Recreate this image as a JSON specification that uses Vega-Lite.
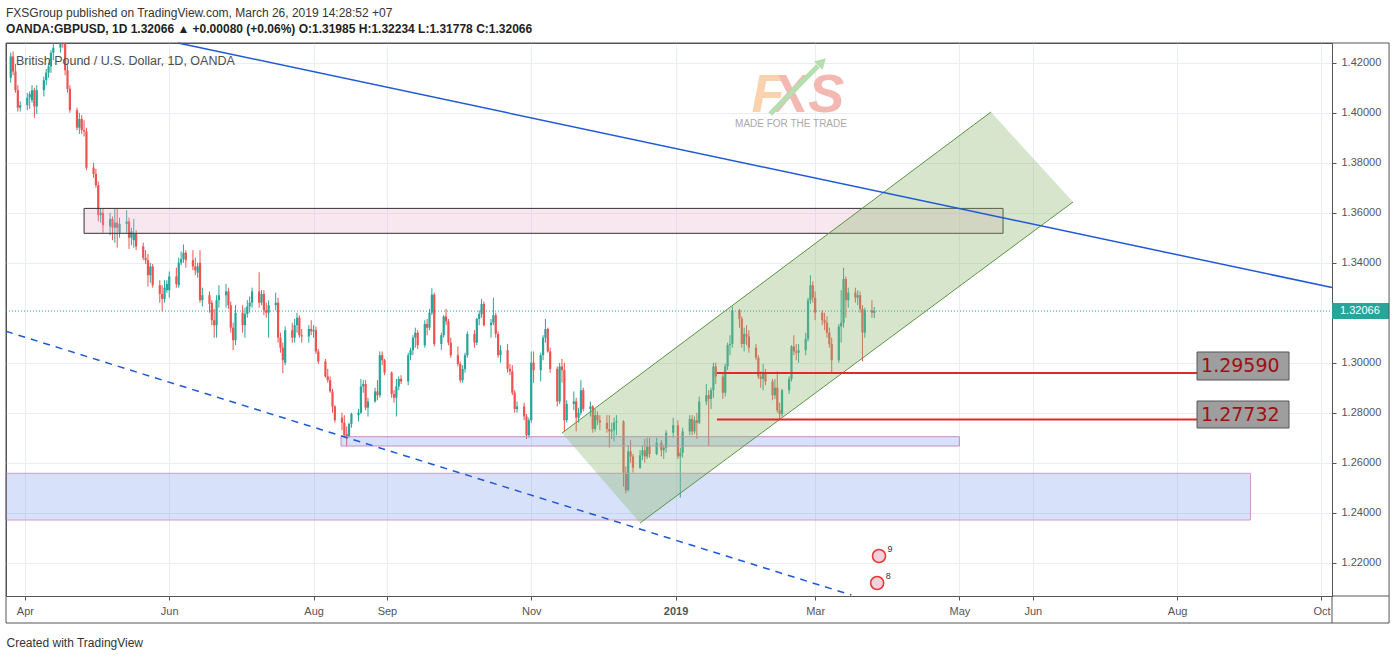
{
  "$schema": "https://vega.github.io/schema/vega-lite/v6.json",
  "width": 1326,
  "height": 553,
  "autosize": {"type": "none"},
  "padding": {"left": 6, "top": 43, "right": 64, "bottom": 64},
  "background": "white",
  "title": {
    "text": "FXSGroup published on TradingView.com, March 26, 2019 14:28:52 +07",
    "subtitle": "OANDA:GBPUSD, 1D  1.32066 ▲ +0.00080 (+0.06%) O:1.31985 H:1.32234 L:1.31778 C:1.32066",
    "anchor": "start",
    "frame": "group",
    "offset": 6,
    "font": "Liberation Sans",
    "fontSize": 12,
    "fontWeight": "normal",
    "color": "#333333",
    "subtitleFont": "Liberation Sans",
    "subtitleFontSize": 12,
    "subtitleFontWeight": "bold",
    "subtitleColor": "#222222",
    "subtitlePadding": 4
  },
  "config": {
    "view": {"stroke": "#555555", "strokeWidth": 1},
    "font": "Liberation Sans"
  },
  "datasets": {
    "ohlc": [
      {"d":"2018-03-26","o":1.4140,"h":1.4240,"l":1.4120,"c":1.4225},
      {"d":"2018-03-27","o":1.4225,"h":1.4245,"l":1.4150,"c":1.4165},
      {"d":"2018-03-28","o":1.4165,"h":1.4195,"l":1.4080,"c":1.4090},
      {"d":"2018-03-29","o":1.4090,"h":1.4110,"l":1.4005,"c":1.4020},
      {"d":"2018-03-30","o":1.4020,"h":1.4045,"l":1.4005,"c":1.4030},
      {"d":"2018-04-02","o":1.4030,"h":1.4080,"l":1.4010,"c":1.4060},
      {"d":"2018-04-03","o":1.4060,"h":1.4085,"l":1.4015,"c":1.4075},
      {"d":"2018-04-04","o":1.4050,"h":1.4110,"l":1.4040,"c":1.4090},
      {"d":"2018-04-05","o":1.4090,"h":1.4100,"l":1.3980,"c":1.4025},
      {"d":"2018-04-06","o":1.4025,"h":1.4110,"l":1.3995,"c":1.4090},
      {"d":"2018-04-09","o":1.4090,"h":1.4145,"l":1.4065,"c":1.4130},
      {"d":"2018-04-10","o":1.4130,"h":1.4175,"l":1.4110,"c":1.4160},
      {"d":"2018-04-11","o":1.4160,"h":1.4200,"l":1.4140,"c":1.4185},
      {"d":"2018-04-12","o":1.4185,"h":1.4250,"l":1.4160,"c":1.4240},
      {"d":"2018-04-13","o":1.4240,"h":1.4290,"l":1.4210,"c":1.4260},
      {"d":"2018-04-16","o":1.4260,"h":1.4340,"l":1.4240,"c":1.4330},
      {"d":"2018-04-17","o":1.4330,"h":1.4377,"l":1.4260,"c":1.4285},
      {"d":"2018-04-18","o":1.4285,"h":1.4300,"l":1.4150,"c":1.4170},
      {"d":"2018-04-19","o":1.4170,"h":1.4190,"l":1.4080,"c":1.4095},
      {"d":"2018-04-20","o":1.4095,"h":1.4110,"l":1.4000,"c":1.4010},
      {"d":"2018-04-23","o":1.4010,"h":1.4020,"l":1.3930,"c":1.3940},
      {"d":"2018-04-24","o":1.3940,"h":1.4000,"l":1.3915,"c":1.3975},
      {"d":"2018-04-25","o":1.3975,"h":1.3990,"l":1.3915,"c":1.3930},
      {"d":"2018-04-26","o":1.3930,"h":1.3970,"l":1.3905,"c":1.3925},
      {"d":"2018-04-27","o":1.3925,"h":1.3940,"l":1.3770,"c":1.3780},
      {"d":"2018-04-30","o":1.3780,"h":1.3800,"l":1.3740,"c":1.3755},
      {"d":"2018-05-01","o":1.3755,"h":1.3775,"l":1.3700,"c":1.3710},
      {"d":"2018-05-02","o":1.3710,"h":1.3725,"l":1.3565,"c":1.3590},
      {"d":"2018-05-03","o":1.3590,"h":1.3615,"l":1.3560,"c":1.3600},
      {"d":"2018-05-04","o":1.3600,"h":1.3615,"l":1.3520,"c":1.3550},
      {"d":"2018-05-07","o":1.3545,"h":1.3600,"l":1.3510,"c":1.3575},
      {"d":"2018-05-08","o":1.3575,"h":1.3585,"l":1.3490,"c":1.3540},
      {"d":"2018-05-09","o":1.3540,"h":1.3615,"l":1.3480,"c":1.3560},
      {"d":"2018-05-10","o":1.3560,"h":1.3615,"l":1.3460,"c":1.3540},
      {"d":"2018-05-11","o":1.3520,"h":1.3580,"l":1.3500,"c":1.3555},
      {"d":"2018-05-14","o":1.3555,"h":1.3610,"l":1.3520,"c":1.3565},
      {"d":"2018-05-15","o":1.3565,"h":1.3580,"l":1.3455,"c":1.3500},
      {"d":"2018-05-16","o":1.3500,"h":1.3540,"l":1.3470,"c":1.3525},
      {"d":"2018-05-17","o":1.3490,"h":1.3575,"l":1.3460,"c":1.3515},
      {"d":"2018-05-18","o":1.3515,"h":1.3530,"l":1.3450,"c":1.3465},
      {"d":"2018-05-21","o":1.3465,"h":1.3480,"l":1.3410,"c":1.3420},
      {"d":"2018-05-22","o":1.3420,"h":1.3450,"l":1.3395,"c":1.3410},
      {"d":"2018-05-23","o":1.3410,"h":1.3435,"l":1.3305,"c":1.3350},
      {"d":"2018-05-24","o":1.3350,"h":1.3400,"l":1.3320,"c":1.3385},
      {"d":"2018-05-25","o":1.3385,"h":1.3395,"l":1.3300,"c":1.3310},
      {"d":"2018-05-28","o":1.3310,"h":1.3330,"l":1.3240,"c":1.3275},
      {"d":"2018-05-29","o":1.3275,"h":1.3310,"l":1.3205,"c":1.3255},
      {"d":"2018-05-30","o":1.3255,"h":1.3330,"l":1.3240,"c":1.3300},
      {"d":"2018-05-31","o":1.3290,"h":1.3330,"l":1.3280,"c":1.3315},
      {"d":"2018-06-01","o":1.3290,"h":1.3365,"l":1.3260,"c":1.3345},
      {"d":"2018-06-04","o":1.3345,"h":1.3380,"l":1.3300,"c":1.3315},
      {"d":"2018-06-05","o":1.3310,"h":1.3420,"l":1.3300,"c":1.3400},
      {"d":"2018-06-06","o":1.3400,"h":1.3445,"l":1.3390,"c":1.3415},
      {"d":"2018-06-07","o":1.3415,"h":1.3473,"l":1.3400,"c":1.3440},
      {"d":"2018-06-08","o":1.3440,"h":1.3450,"l":1.3380,"c":1.3410},
      {"d":"2018-06-11","o":1.3410,"h":1.3450,"l":1.3370,"c":1.3385},
      {"d":"2018-06-12","o":1.3385,"h":1.3420,"l":1.3350,"c":1.3370},
      {"d":"2018-06-13","o":1.3360,"h":1.3400,"l":1.3340,"c":1.3385},
      {"d":"2018-06-14","o":1.3400,"h":1.3450,"l":1.3240,"c":1.3250},
      {"d":"2018-06-15","o":1.3250,"h":1.3300,"l":1.3225,"c":1.3270},
      {"d":"2018-06-18","o":1.3270,"h":1.3285,"l":1.3200,"c":1.3235},
      {"d":"2018-06-19","o":1.3240,"h":1.3250,"l":1.3150,"c":1.3170},
      {"d":"2018-06-20","o":1.3170,"h":1.3215,"l":1.3100,"c":1.3150},
      {"d":"2018-06-21","o":1.3150,"h":1.3270,"l":1.3100,"c":1.3250},
      {"d":"2018-06-22","o":1.3250,"h":1.3310,"l":1.3220,"c":1.3270},
      {"d":"2018-06-25","o":1.3270,"h":1.3315,"l":1.3220,"c":1.3285},
      {"d":"2018-06-26","o":1.3285,"h":1.3300,"l":1.3215,"c":1.3230},
      {"d":"2018-06-27","o":1.3230,"h":1.3245,"l":1.3120,"c":1.3140},
      {"d":"2018-06-28","o":1.3140,"h":1.3160,"l":1.3050,"c":1.3090},
      {"d":"2018-06-29","o":1.3090,"h":1.3230,"l":1.3070,"c":1.3200},
      {"d":"2018-07-02","o":1.3200,"h":1.3230,"l":1.3120,"c":1.3150},
      {"d":"2018-07-03","o":1.3150,"h":1.3220,"l":1.3100,"c":1.3195},
      {"d":"2018-07-04","o":1.3195,"h":1.3250,"l":1.3180,"c":1.3225},
      {"d":"2018-07-05","o":1.3225,"h":1.3265,"l":1.3200,"c":1.3240},
      {"d":"2018-07-06","o":1.3240,"h":1.3300,"l":1.3220,"c":1.3285},
      {"d":"2018-07-09","o":1.3285,"h":1.3362,"l":1.3220,"c":1.3240},
      {"d":"2018-07-10","o":1.3240,"h":1.3290,"l":1.3230,"c":1.3275},
      {"d":"2018-07-11","o":1.3275,"h":1.3290,"l":1.3190,"c":1.3210},
      {"d":"2018-07-12","o":1.3210,"h":1.3240,"l":1.3180,"c":1.3200},
      {"d":"2018-07-13","o":1.3200,"h":1.3250,"l":1.3100,"c":1.3230},
      {"d":"2018-07-16","o":1.3230,"h":1.3280,"l":1.3210,"c":1.3240},
      {"d":"2018-07-17","o":1.3240,"h":1.3260,"l":1.3080,"c":1.3100},
      {"d":"2018-07-18","o":1.3100,"h":1.3120,"l":1.3040,"c":1.3060},
      {"d":"2018-07-19","o":1.3060,"h":1.3080,"l":1.2958,"c":1.3010},
      {"d":"2018-07-20","o":1.3000,"h":1.3145,"l":1.2990,"c":1.3130},
      {"d":"2018-07-23","o":1.3130,"h":1.3160,"l":1.3080,"c":1.3100},
      {"d":"2018-07-24","o":1.3100,"h":1.3175,"l":1.3080,"c":1.3150},
      {"d":"2018-07-25","o":1.3150,"h":1.3200,"l":1.3120,"c":1.3180},
      {"d":"2018-07-26","o":1.3180,"h":1.3190,"l":1.3100,"c":1.3110},
      {"d":"2018-07-27","o":1.3110,"h":1.3135,"l":1.3080,"c":1.3105},
      {"d":"2018-07-30","o":1.3105,"h":1.3150,"l":1.3080,"c":1.3135},
      {"d":"2018-07-31","o":1.3135,"h":1.3170,"l":1.3110,"c":1.3125},
      {"d":"2018-08-01","o":1.3125,"h":1.3150,"l":1.3100,"c":1.3130},
      {"d":"2018-08-02","o":1.3130,"h":1.3145,"l":1.3035,"c":1.3045},
      {"d":"2018-08-03","o":1.3045,"h":1.3055,"l":1.2995,"c":1.3005},
      {"d":"2018-08-06","o":1.3005,"h":1.3015,"l":1.2940,"c":1.2945},
      {"d":"2018-08-07","o":1.2945,"h":1.2975,"l":1.2920,"c":1.2930},
      {"d":"2018-08-08","o":1.2930,"h":1.2945,"l":1.2880,"c":1.2885},
      {"d":"2018-08-09","o":1.2885,"h":1.2895,"l":1.2800,"c":1.2825},
      {"d":"2018-08-10","o":1.2825,"h":1.2830,"l":1.2760,"c":1.2770},
      {"d":"2018-08-13","o":1.2780,"h":1.2800,"l":1.2730,"c":1.2760},
      {"d":"2018-08-14","o":1.2760,"h":1.2790,"l":1.2705,"c":1.2710},
      {"d":"2018-08-15","o":1.2715,"h":1.2745,"l":1.2665,"c":1.2705},
      {"d":"2018-08-16","o":1.2705,"h":1.2760,"l":1.2700,"c":1.2755},
      {"d":"2018-08-17","o":1.2755,"h":1.2800,"l":1.2740,"c":1.2795},
      {"d":"2018-08-20","o":1.2790,"h":1.2815,"l":1.2765,"c":1.2800},
      {"d":"2018-08-21","o":1.2800,"h":1.2935,"l":1.2795,"c":1.2905},
      {"d":"2018-08-22","o":1.2905,"h":1.2930,"l":1.2880,"c":1.2915},
      {"d":"2018-08-23","o":1.2915,"h":1.2930,"l":1.2810,"c":1.2820},
      {"d":"2018-08-24","o":1.2820,"h":1.2860,"l":1.2785,"c":1.2845},
      {"d":"2018-08-27","o":1.2845,"h":1.2900,"l":1.2840,"c":1.2885},
      {"d":"2018-08-28","o":1.2885,"h":1.2930,"l":1.2850,"c":1.2870},
      {"d":"2018-08-29","o":1.2870,"h":1.3045,"l":1.2860,"c":1.3030},
      {"d":"2018-08-30","o":1.3030,"h":1.3045,"l":1.2990,"c":1.3010},
      {"d":"2018-08-31","o":1.3010,"h":1.3015,"l":1.2950,"c":1.2960},
      {"d":"2018-09-03","o":1.2960,"h":1.2965,"l":1.2860,"c":1.2875},
      {"d":"2018-09-04","o":1.2875,"h":1.2890,"l":1.2840,"c":1.2860},
      {"d":"2018-09-05","o":1.2860,"h":1.2935,"l":1.2785,"c":1.2905},
      {"d":"2018-09-06","o":1.2905,"h":1.2945,"l":1.2890,"c":1.2935},
      {"d":"2018-09-07","o":1.2935,"h":1.2950,"l":1.2915,"c":1.2925},
      {"d":"2018-09-10","o":1.2925,"h":1.3040,"l":1.2910,"c":1.3030},
      {"d":"2018-09-11","o":1.3030,"h":1.3060,"l":1.3010,"c":1.3050},
      {"d":"2018-09-12","o":1.3050,"h":1.3110,"l":1.3030,"c":1.3100},
      {"d":"2018-09-13","o":1.3100,"h":1.3140,"l":1.3060,"c":1.3120},
      {"d":"2018-09-14","o":1.3120,"h":1.3130,"l":1.3055,"c":1.3070},
      {"d":"2018-09-17","o":1.3070,"h":1.3170,"l":1.3060,"c":1.3155},
      {"d":"2018-09-18","o":1.3155,"h":1.3175,"l":1.3110,"c":1.3140},
      {"d":"2018-09-19","o":1.3140,"h":1.3215,"l":1.3130,"c":1.3200},
      {"d":"2018-09-20","o":1.3200,"h":1.3298,"l":1.3190,"c":1.3272},
      {"d":"2018-09-21","o":1.3272,"h":1.3280,"l":1.3065,"c":1.3075},
      {"d":"2018-09-24","o":1.3075,"h":1.3120,"l":1.3050,"c":1.3110},
      {"d":"2018-09-25","o":1.3110,"h":1.3190,"l":1.3100,"c":1.3185},
      {"d":"2018-09-26","o":1.3185,"h":1.3215,"l":1.3150,"c":1.3165},
      {"d":"2018-09-27","o":1.3165,"h":1.3175,"l":1.3070,"c":1.3080},
      {"d":"2018-09-28","o":1.3080,"h":1.3100,"l":1.3020,"c":1.3030},
      {"d":"2018-10-01","o":1.3030,"h":1.3065,"l":1.2985,"c":1.2995},
      {"d":"2018-10-02","o":1.2995,"h":1.3005,"l":1.2920,"c":1.2930},
      {"d":"2018-10-03","o":1.2930,"h":1.2990,"l":1.2920,"c":1.2975},
      {"d":"2018-10-04","o":1.2975,"h":1.3040,"l":1.2960,"c":1.3030},
      {"d":"2018-10-05","o":1.3030,"h":1.3125,"l":1.3020,"c":1.3115},
      {"d":"2018-10-08","o":1.3115,"h":1.3130,"l":1.3060,"c":1.3080},
      {"d":"2018-10-09","o":1.3080,"h":1.3180,"l":1.3070,"c":1.3175},
      {"d":"2018-10-10","o":1.3175,"h":1.3210,"l":1.3150,"c":1.3195},
      {"d":"2018-10-11","o":1.3195,"h":1.3255,"l":1.3180,"c":1.3235},
      {"d":"2018-10-12","o":1.3235,"h":1.3245,"l":1.3145,"c":1.3150},
      {"d":"2018-10-15","o":1.3150,"h":1.3175,"l":1.3100,"c":1.3160},
      {"d":"2018-10-16","o":1.3160,"h":1.3260,"l":1.3150,"c":1.3190},
      {"d":"2018-10-17","o":1.3190,"h":1.3200,"l":1.3100,"c":1.3115},
      {"d":"2018-10-18","o":1.3115,"h":1.3125,"l":1.3020,"c":1.3030},
      {"d":"2018-10-19","o":1.3030,"h":1.3070,"l":1.3000,"c":1.3050},
      {"d":"2018-10-22","o":1.3050,"h":1.3075,"l":1.2960,"c":1.2975},
      {"d":"2018-10-23","o":1.2975,"h":1.2995,"l":1.2950,"c":1.2965},
      {"d":"2018-10-24","o":1.2965,"h":1.2990,"l":1.2870,"c":1.2880},
      {"d":"2018-10-25","o":1.2880,"h":1.2890,"l":1.2800,"c":1.2815},
      {"d":"2018-10-26","o":1.2815,"h":1.2845,"l":1.2800,"c":1.2825},
      {"d":"2018-10-29","o":1.2825,"h":1.2840,"l":1.2770,"c":1.2785},
      {"d":"2018-10-30","o":1.2785,"h":1.2795,"l":1.2695,"c":1.2710},
      {"d":"2018-10-31","o":1.2710,"h":1.2780,"l":1.2700,"c":1.2770},
      {"d":"2018-11-01","o":1.2770,"h":1.3045,"l":1.2760,"c":1.3000},
      {"d":"2018-11-02","o":1.3000,"h":1.3045,"l":1.2920,"c":1.2970},
      {"d":"2018-11-05","o":1.2970,"h":1.3040,"l":1.2925,"c":1.3030},
      {"d":"2018-11-06","o":1.3030,"h":1.3110,"l":1.3010,"c":1.3100},
      {"d":"2018-11-07","o":1.3100,"h":1.3175,"l":1.3080,"c":1.3135},
      {"d":"2018-11-08","o":1.3135,"h":1.3140,"l":1.3040,"c":1.3045},
      {"d":"2018-11-09","o":1.3045,"h":1.3060,"l":1.2960,"c":1.2975},
      {"d":"2018-11-12","o":1.2975,"h":1.2985,"l":1.2825,"c":1.2845},
      {"d":"2018-11-13","o":1.2845,"h":1.3000,"l":1.2835,"c":1.2985},
      {"d":"2018-11-14","o":1.2985,"h":1.3015,"l":1.2920,"c":1.2970},
      {"d":"2018-11-15","o":1.2970,"h":1.3000,"l":1.2725,"c":1.2770},
      {"d":"2018-11-16","o":1.2770,"h":1.2850,"l":1.2760,"c":1.2835},
      {"d":"2018-11-19","o":1.2835,"h":1.2885,"l":1.2810,"c":1.2845},
      {"d":"2018-11-20","o":1.2845,"h":1.2860,"l":1.2725,"c":1.2780},
      {"d":"2018-11-21","o":1.2780,"h":1.2820,"l":1.2760,"c":1.2800},
      {"d":"2018-11-22","o":1.2800,"h":1.2930,"l":1.2790,"c":1.2890},
      {"d":"2018-11-23","o":1.2890,"h":1.2900,"l":1.2805,"c":1.2815},
      {"d":"2018-11-26","o":1.2815,"h":1.2845,"l":1.2785,"c":1.2825},
      {"d":"2018-11-27","o":1.2825,"h":1.2830,"l":1.2720,"c":1.2735},
      {"d":"2018-11-28","o":1.2735,"h":1.2815,"l":1.2725,"c":1.2790},
      {"d":"2018-11-29","o":1.2790,"h":1.2805,"l":1.2750,"c":1.2770},
      {"d":"2018-11-30","o":1.2770,"h":1.2790,"l":1.2730,"c":1.2760},
      {"d":"2018-12-03","o":1.2760,"h":1.2790,"l":1.2720,"c":1.2735},
      {"d":"2018-12-04","o":1.2735,"h":1.2790,"l":1.2660,"c":1.2725},
      {"d":"2018-12-05","o":1.2725,"h":1.2760,"l":1.2695,"c":1.2730},
      {"d":"2018-12-06","o":1.2730,"h":1.2780,"l":1.2685,"c":1.2760},
      {"d":"2018-12-07","o":1.2760,"h":1.2790,"l":1.2710,"c":1.2765},
      {"d":"2018-12-10","o":1.2765,"h":1.2770,"l":1.2505,"c":1.2560},
      {"d":"2018-12-11","o":1.2560,"h":1.2585,"l":1.2477,"c":1.2490},
      {"d":"2018-12-12","o":1.2490,"h":1.2670,"l":1.2485,"c":1.2645},
      {"d":"2018-12-13","o":1.2645,"h":1.2690,"l":1.2600,"c":1.2625},
      {"d":"2018-12-14","o":1.2625,"h":1.2635,"l":1.2560,"c":1.2580},
      {"d":"2018-12-17","o":1.2580,"h":1.2650,"l":1.2575,"c":1.2630},
      {"d":"2018-12-18","o":1.2630,"h":1.2670,"l":1.2610,"c":1.2650},
      {"d":"2018-12-19","o":1.2650,"h":1.2695,"l":1.2600,"c":1.2625},
      {"d":"2018-12-20","o":1.2625,"h":1.2700,"l":1.2615,"c":1.2665},
      {"d":"2018-12-21","o":1.2665,"h":1.2700,"l":1.2620,"c":1.2635},
      {"d":"2018-12-24","o":1.2635,"h":1.2700,"l":1.2630,"c":1.2680},
      {"d":"2018-12-26","o":1.2680,"h":1.2690,"l":1.2625,"c":1.2650},
      {"d":"2018-12-27","o":1.2650,"h":1.2670,"l":1.2615,"c":1.2660},
      {"d":"2018-12-28","o":1.2660,"h":1.2730,"l":1.2640,"c":1.2720},
      {"d":"2018-12-31","o":1.2720,"h":1.2780,"l":1.2700,"c":1.2750},
      {"d":"2019-01-02","o":1.2750,"h":1.2770,"l":1.2615,"c":1.2625},
      {"d":"2019-01-03","o":1.2625,"h":1.2660,"l":1.2460,"c":1.2640},
      {"d":"2019-01-04","o":1.2640,"h":1.2740,"l":1.2620,"c":1.2725},
      {"d":"2019-01-07","o":1.2725,"h":1.2790,"l":1.2710,"c":1.2775},
      {"d":"2019-01-08","o":1.2775,"h":1.2790,"l":1.2710,"c":1.2725},
      {"d":"2019-01-09","o":1.2725,"h":1.2785,"l":1.2715,"c":1.2770},
      {"d":"2019-01-10","o":1.2770,"h":1.2800,"l":1.2695,"c":1.2760},
      {"d":"2019-01-11","o":1.2760,"h":1.2865,"l":1.2755,"c":1.2845},
      {"d":"2019-01-14","o":1.2845,"h":1.2915,"l":1.2830,"c":1.2870},
      {"d":"2019-01-15","o":1.2870,"h":1.2890,"l":1.2668,"c":1.2855},
      {"d":"2019-01-16","o":1.2855,"h":1.2900,"l":1.2815,"c":1.2890},
      {"d":"2019-01-17","o":1.2890,"h":1.3000,"l":1.2860,"c":1.2985},
      {"d":"2019-01-18","o":1.2985,"h":1.3000,"l":1.2915,"c":1.2945},
      {"d":"2019-01-21","o":1.2945,"h":1.2955,"l":1.2855,"c":1.2880},
      {"d":"2019-01-22","o":1.2880,"h":1.2995,"l":1.2865,"c":1.2985},
      {"d":"2019-01-23","o":1.2985,"h":1.3080,"l":1.2970,"c":1.3070},
      {"d":"2019-01-24","o":1.3070,"h":1.3110,"l":1.3030,"c":1.3075},
      {"d":"2019-01-25","o":1.3075,"h":1.3225,"l":1.3060,"c":1.3210},
      {"d":"2019-01-28","o":1.3210,"h":1.3215,"l":1.3140,"c":1.3175},
      {"d":"2019-01-29","o":1.3175,"h":1.3185,"l":1.3060,"c":1.3075},
      {"d":"2019-01-30","o":1.3075,"h":1.3140,"l":1.3045,"c":1.3115},
      {"d":"2019-01-31","o":1.3115,"h":1.3150,"l":1.3070,"c":1.3105},
      {"d":"2019-02-01","o":1.3105,"h":1.3130,"l":1.3040,"c":1.3060},
      {"d":"2019-02-04","o":1.3060,"h":1.3075,"l":1.3010,"c":1.3020},
      {"d":"2019-02-05","o":1.3020,"h":1.3030,"l":1.2935,"c":1.2945},
      {"d":"2019-02-06","o":1.2945,"h":1.2965,"l":1.2900,"c":1.2935},
      {"d":"2019-02-07","o":1.2935,"h":1.2995,"l":1.2890,"c":1.2960},
      {"d":"2019-02-08","o":1.2960,"h":1.2975,"l":1.2910,"c":1.2925},
      {"d":"2019-02-11","o":1.2925,"h":1.2935,"l":1.2850,"c":1.2870},
      {"d":"2019-02-12","o":1.2870,"h":1.2935,"l":1.2855,"c":1.2900},
      {"d":"2019-02-13","o":1.2900,"h":1.2965,"l":1.2800,"c":1.2810},
      {"d":"2019-02-14","o":1.2810,"h":1.2840,"l":1.2773,"c":1.2795},
      {"d":"2019-02-15","o":1.2795,"h":1.2895,"l":1.2785,"c":1.2890},
      {"d":"2019-02-18","o":1.2890,"h":1.2945,"l":1.2875,"c":1.2935},
      {"d":"2019-02-19","o":1.2935,"h":1.3070,"l":1.2925,"c":1.3065},
      {"d":"2019-02-20","o":1.3065,"h":1.3110,"l":1.3030,"c":1.3045},
      {"d":"2019-02-21","o":1.3045,"h":1.3075,"l":1.3010,"c":1.3040},
      {"d":"2019-02-22","o":1.3040,"h":1.3075,"l":1.3000,"c":1.3050},
      {"d":"2019-02-25","o":1.3050,"h":1.3120,"l":1.3030,"c":1.3095},
      {"d":"2019-02-26","o":1.3095,"h":1.3260,"l":1.3085,"c":1.3250},
      {"d":"2019-02-27","o":1.3250,"h":1.3350,"l":1.3235,"c":1.3310},
      {"d":"2019-02-28","o":1.3310,"h":1.3325,"l":1.3240,"c":1.3260},
      {"d":"2019-03-01","o":1.3260,"h":1.3285,"l":1.3170,"c":1.3200},
      {"d":"2019-03-04","o":1.3200,"h":1.3210,"l":1.3150,"c":1.3170},
      {"d":"2019-03-05","o":1.3170,"h":1.3200,"l":1.3130,"c":1.3160},
      {"d":"2019-03-06","o":1.3160,"h":1.3185,"l":1.3100,"c":1.3120},
      {"d":"2019-03-07","o":1.3120,"h":1.3140,"l":1.3060,"c":1.3075},
      {"d":"2019-03-08","o":1.3075,"h":1.3100,"l":1.2960,"c":1.3010},
      {"d":"2019-03-11","o":1.3010,"h":1.3155,"l":1.3000,"c":1.3145},
      {"d":"2019-03-12","o":1.3145,"h":1.3290,"l":1.3080,"c":1.3160},
      {"d":"2019-03-13","o":1.3160,"h":1.3380,"l":1.3140,"c":1.3335},
      {"d":"2019-03-14","o":1.3335,"h":1.3345,"l":1.3180,"c":1.3250},
      {"d":"2019-03-15","o":1.3250,"h":1.3300,"l":1.3220,"c":1.3280},
      {"d":"2019-03-18","o":1.3280,"h":1.3300,"l":1.3240,"c":1.3260},
      {"d":"2019-03-19","o":1.3260,"h":1.3290,"l":1.3230,"c":1.3270},
      {"d":"2019-03-20","o":1.3270,"h":1.3285,"l":1.3200,"c":1.3215},
      {"d":"2019-03-21","o":1.3215,"h":1.3230,"l":1.3005,"c":1.3120},
      {"d":"2019-03-22","o":1.3120,"h":1.3220,"l":1.3100,"c":1.3210},
      {"d":"2019-03-25","o":1.3210,"h":1.3250,"l":1.3180,"c":1.3200},
      {"d":"2019-03-26","o":1.31985,"h":1.32234,"l":1.31778,"c":1.32066}
    ],
    "zones": [
      {"name":"demand","x1":"2018-03-24T00:00:00Z","x2":"2019-09-01T00:00:00Z","p1":1.25576,"p2":1.23708},
      {"name":"support","x1":"2018-08-12T14:00:00Z","x2":"2019-04-30T23:00:00Z","p1":1.27040,"p2":1.26668},
      {"name":"supply","x1":"2018-04-26T00:00:00Z","x2":"2019-05-19T10:00:00Z","p1":1.36172,"p2":1.35176}
    ],
    "channel": [
      {"d":"2018-11-14T00:00:00Z","top":1.27188,"bot":1.27188},
      {"d":"2018-12-17T00:00:00Z","top":1.29524,"bot":1.23588},
      {"d":"2019-05-14T07:00:00Z","top":1.40028,"bot":1.33996},
      {"d":"2019-06-18T00:00:00Z","top":1.36428,"bot":1.36428}
    ],
    "lines": [
      {"name":"res","x1":"2018-06-04T17:00:00Z","p1":1.42788,"x2":"2019-10-05T11:00:00Z","p2":1.33008},
      {"name":"sup","x1":"2018-03-24T00:00:00Z","p1":1.31256,"x2":"2019-03-16T07:00:00Z","p2":1.20708},
      {"name":"chtop","x1":"2018-11-14T00:00:00Z","p1":1.27188,"x2":"2019-05-14T07:00:00Z","p2":1.40028},
      {"name":"chbot","x1":"2018-12-17T00:00:00Z","p1":1.23588,"x2":"2019-06-18T00:00:00Z","p2":1.36428},
      {"name":"lvl","x1":"2019-01-18T12:00:00Z","p1":1.29590,"x2":"2019-08-09T10:00:00Z","p2":1.29590},
      {"name":"lvl","x1":"2019-01-18T12:00:00Z","p1":1.27732,"x2":"2019-08-09T10:00:00Z","p2":1.27732},
      {"name":"last","x1":"2018-03-24T00:00:00Z","p1":1.32066,"x2":"2019-10-05T11:00:00Z","p2":1.32066}
    ],
    "tags": [
      {"label":"1.29590","x1":"2019-08-09T10:00:00Z","x2":"2019-09-17T07:00:00Z","p1":1.30428,"p2":1.29308},
      {"label":"1.27732","x1":"2019-08-09T10:00:00Z","x2":"2019-09-17T07:00:00Z","p1":1.28468,"p2":1.27388}
    ],
    "lastprice": [
      {"label":"1.32066","x1":"2019-10-05T11:00:00Z","x2":"2019-10-29T14:00:00Z","p1":1.32388,"p2":1.31748,"p":1.32066}
    ],
    "wm": [
      {"t":"F","d":"2019-02-09T02:00:00Z","p":1.40668},
      {"t":"XS","d":"2019-02-26T02:00:00Z","p":1.40668}
    ],
    "events": [
      {"d":"2019-03-28T00:00:00Z","p":1.22268,"n":"9"},
      {"d":"2019-03-27T05:00:00Z","p":1.21188,"n":"8"}
    ]
  },
  "layer": [
    {
      "data": {"name": "ohlc"},
      "mark": {"type": "rule", "strokeWidth": 1, "clip": true},
      "encoding": {
        "x": {
          "field": "d", "type": "temporal",
          "scale": {"type": "utc", "padding": 0, "domain": [{"year": 2018, "month": 3, "date": 24, "utc": true}, {"year": 2019, "month": 10, "date": 5, "hours": 11, "utc": true}]},
          "axis": {
            "orient": "bottom",
            "values": [
              {"year": 2018, "month": 4, "date": 1, "utc": true},
              {"year": 2018, "month": 6, "date": 1, "utc": true},
              {"year": 2018, "month": 8, "date": 1, "utc": true},
              {"year": 2018, "month": 9, "date": 1, "utc": true},
              {"year": 2018, "month": 11, "date": 1, "utc": true},
              {"year": 2019, "month": 1, "date": 1, "utc": true},
              {"year": 2019, "month": 3, "date": 1, "utc": true},
              {"year": 2019, "month": 5, "date": 1, "utc": true},
              {"year": 2019, "month": 6, "date": 1, "utc": true},
              {"year": 2019, "month": 8, "date": 1, "utc": true},
              {"year": 2019, "month": 10, "date": 1, "utc": true}
            ],
            "labelExpr": "utcmonth(datum.value) == 0 ? utcFormat(datum.value, '%Y') : utcFormat(datum.value, '%b')",
            "labelFontWeight": {"condition": {"test": "utcmonth(datum.value) == 0", "value": "bold"}, "value": "normal"},
            "labelColor": "#555555",
            "labelFontSize": 11,
            "labelPadding": 5,
            "labelOverlap": false,
            "labelFlush": false,
            "labelBound": false,
            "grid": true,
            "gridColor": "#e9eef4",
            "domainColor": "#555555",
            "tickColor": "#555555",
            "tickSize": 4,
            "title": "Created with TradingView",
            "titleAnchor": "start",
            "titleAlign": "left",
            "titleBaseline": "alphabetic",
            "titleX": 0,
            "titleY": 50,
            "titleFontSize": 12,
            "titleFontWeight": "normal",
            "titleColor": "#333333"
          }
        },
        "y": {
          "field": "l", "type": "quantitative",
          "scale": {"domain": [1.20668, 1.42788], "nice": false, "zero": false, "padding": 0},
          "axis": {
            "orient": "right",
            "values": [1.22, 1.24, 1.26, 1.28, 1.30, 1.34, 1.36, 1.38, 1.40, 1.42],
            "format": ".5f",
            "labelColor": "#555555",
            "labelFontSize": 11,
            "labelPadding": 5,
            "grid": true,
            "gridColor": "#e9eef4",
            "domainColor": "#555555",
            "tickColor": "#555555",
            "tickSize": 4,
            "title": null
          }
        },
        "y2": {"field": "h"},
        "color": {"condition": {"test": "datum.c >= datum.o", "value": "#26a69a"}, "value": "#ef5350"}
      }
    },
    {
      "data": {"name": "ohlc"},
      "mark": {"type": "bar", "width": 2.2, "clip": true},
      "encoding": {
        "x": {"field": "d", "type": "temporal"},
        "y": {"field": "o", "type": "quantitative"},
        "y2": {"field": "c"},
        "color": {"condition": {"test": "datum.c >= datum.o", "value": "#26a69a"}, "value": "#ef5350"}
      }
    },
    {
      "data": {"name": "wm"},
      "mark": {"type": "text", "fontSize": 54, "fontStyle": "italic", "fontWeight": "bold", "align": "center", "baseline": "middle"},
      "encoding": {
        "x": {"field": "d", "type": "temporal"},
        "y": {"field": "p", "type": "quantitative"},
        "text": {"field": "t"},
        "color": {"field": "t", "type": "nominal", "scale": {"domain": ["F", "XS"], "range": ["#fbd2ae", "#f4b8b3"]}, "legend": null}
      }
    },
    {
      "data": {"values": [{}]},
      "mark": {"type": "rule", "color": "#b5dfae", "strokeWidth": 5},
      "encoding": {
        "x": {"datum": {"year": 2019, "month": 2, "date": 10, "utc": true}, "type": "temporal"},
        "x2": {"datum": {"year": 2019, "month": 3, "date": 2, "hours": 5, "utc": true}},
        "y": {"datum": 1.39948, "type": "quantitative"},
        "y2": {"datum": 1.41868}
      }
    },
    {
      "data": {"values": [{}]},
      "mark": {"type": "point", "shape": "triangle-up", "angle": 45, "filled": true, "size": 150, "color": "#b5dfae", "opacity": 1},
      "encoding": {
        "x": {"datum": {"year": 2019, "month": 3, "date": 3, "hours": 22, "utc": true}, "type": "temporal"},
        "y": {"datum": 1.42028, "type": "quantitative"}
      }
    },
    {
      "data": {"values": [{}]},
      "mark": {"type": "text", "text": "MADE FOR THE TRADE", "fontSize": 10, "color": "#a9a9a9", "align": "center", "baseline": "middle"},
      "encoding": {
        "x": {"datum": {"year": 2019, "month": 2, "date": 18, "hours": 19, "utc": true}, "type": "temporal"},
        "y": {"datum": 1.39548, "type": "quantitative"}
      }
    },
    {
      "data": {"name": "zones"},
      "mark": {"type": "rect", "fillOpacity": 0.27, "strokeWidth": 1},
      "encoding": {
        "x": {"field": "x1", "type": "temporal"},
        "x2": {"field": "x2"},
        "y": {"field": "p1", "type": "quantitative"},
        "y2": {"field": "p2"},
        "fill": {"field": "name", "type": "nominal", "scale": {"domain": ["demand", "support", "supply"], "range": ["#6a8fe8", "#6a8fe8", "#e8a8c8"]}, "legend": null},
        "stroke": {"field": "name", "type": "nominal", "scale": {"domain": ["demand", "support", "supply"], "range": ["#d09ac8", "#c48cc4", "#333333"]}, "legend": null}
      }
    },
    {
      "data": {"name": "channel"},
      "mark": {"type": "area", "color": "#8db870", "fillOpacity": 0.36, "interpolate": "linear"},
      "encoding": {
        "x": {"field": "d", "type": "temporal"},
        "y": {"field": "top", "type": "quantitative"},
        "y2": {"field": "bot"}
      }
    },
    {
      "data": {"name": "lines"},
      "transform": [{"filter": "datum.name == 'chtop' || datum.name == 'chbot'"}],
      "mark": {"type": "rule", "color": "#5d9446", "strokeWidth": 1},
      "encoding": {
        "x": {"field": "x1", "type": "temporal"},
        "x2": {"field": "x2"},
        "y": {"field": "p1", "type": "quantitative"},
        "y2": {"field": "p2"}
      }
    },
    {
      "data": {"name": "lines"},
      "transform": [{"filter": "datum.name == 'res'"}],
      "mark": {"type": "rule", "color": "#1f58d6", "strokeWidth": 1.5},
      "encoding": {
        "x": {"field": "x1", "type": "temporal"},
        "x2": {"field": "x2"},
        "y": {"field": "p1", "type": "quantitative"},
        "y2": {"field": "p2"}
      }
    },
    {
      "data": {"name": "lines"},
      "transform": [{"filter": "datum.name == 'sup'"}],
      "mark": {"type": "rule", "color": "#1f58d6", "strokeWidth": 1.5, "strokeDash": [7, 6]},
      "encoding": {
        "x": {"field": "x1", "type": "temporal"},
        "x2": {"field": "x2"},
        "y": {"field": "p1", "type": "quantitative"},
        "y2": {"field": "p2"}
      }
    },
    {
      "data": {"name": "lines"},
      "transform": [{"filter": "datum.name == 'lvl'"}],
      "mark": {"type": "rule", "color": "#e5262b", "strokeWidth": 2},
      "encoding": {
        "x": {"field": "x1", "type": "temporal"},
        "x2": {"field": "x2"},
        "y": {"field": "p1", "type": "quantitative"},
        "y2": {"field": "p2"}
      }
    },
    {
      "data": {"name": "lines"},
      "transform": [{"filter": "datum.name == 'last'"}],
      "mark": {"type": "rule", "color": "#26a69a", "strokeWidth": 1, "strokeDash": [1, 2]},
      "encoding": {
        "x": {"field": "x1", "type": "temporal"},
        "x2": {"field": "x2"},
        "y": {"field": "p1", "type": "quantitative"},
        "y2": {"field": "p2"}
      }
    },
    {
      "data": {"name": "tags"},
      "mark": {"type": "rect", "fill": "#9e9e9e", "stroke": "#555555", "strokeWidth": 1},
      "encoding": {
        "x": {"field": "x1", "type": "temporal"},
        "x2": {"field": "x2"},
        "y": {"field": "p1", "type": "quantitative"},
        "y2": {"field": "p2"}
      }
    },
    {
      "data": {"name": "tags"},
      "mark": {"type": "text", "font": "DejaVu Sans", "fontSize": 19, "color": "#a30e0e", "align": "left", "baseline": "middle", "dx": 4, "dy": 14},
      "encoding": {
        "x": {"field": "x1", "type": "temporal"},
        "y": {"field": "p1", "type": "quantitative"},
        "text": {"field": "label"}
      }
    },
    {
      "data": {"name": "lastprice"},
      "mark": {"type": "rect", "fill": "#26a69a"},
      "encoding": {
        "x": {"field": "x1", "type": "temporal"},
        "x2": {"field": "x2"},
        "y": {"field": "p1", "type": "quantitative"},
        "y2": {"field": "p2"}
      }
    },
    {
      "data": {"name": "lastprice"},
      "mark": {"type": "text", "fontSize": 11, "color": "white", "align": "left", "baseline": "middle", "dx": 8},
      "encoding": {
        "x": {"field": "x1", "type": "temporal"},
        "y": {"field": "p", "type": "quantitative"},
        "text": {"field": "label"}
      }
    },
    {
      "data": {"values": [{}]},
      "mark": {"type": "text", "text": "British Pound / U.S. Dollar, 1D, OANDA", "fontSize": 12.5, "color": "#4d4d4d", "align": "left", "baseline": "middle"},
      "encoding": {
        "x": {"datum": {"year": 2018, "month": 3, "date": 28, "hours": 5, "utc": true}, "type": "temporal"},
        "y": {"datum": 1.42068, "type": "quantitative"}
      }
    },
    {
      "data": {"name": "events"},
      "mark": {"type": "point", "shape": "circle", "filled": true, "size": 170, "fill": "#efd2dc", "stroke": "#e53935", "strokeWidth": 1.6, "opacity": 1},
      "encoding": {
        "x": {"field": "d", "type": "temporal"},
        "y": {"field": "p", "type": "quantitative"}
      }
    },
    {
      "data": {"name": "events"},
      "mark": {"type": "text", "fontSize": 9, "color": "#333333", "dx": 11, "dy": -7},
      "encoding": {
        "x": {"field": "d", "type": "temporal"},
        "y": {"field": "p", "type": "quantitative"},
        "text": {"field": "n"}
      }
    },
    {
      "data": {"values": [{}]},
      "mark": {"type": "rect", "fill": "transparent", "stroke": "#555555", "strokeWidth": 1},
      "encoding": {
        "x": {"datum": {"year": 2018, "month": 3, "date": 24, "utc": true}, "type": "temporal"},
        "x2": {"datum": {"year": 2019, "month": 10, "date": 29, "hours": 14, "utc": true}},
        "y": {"datum": 1.42788, "type": "quantitative"},
        "y2": {"datum": 1.19588}
      }
    },
    {
      "data": {"values": [{}]},
      "mark": {"type": "rule", "color": "#555555", "strokeWidth": 1},
      "encoding": {
        "x": {"datum": {"year": 2019, "month": 10, "date": 5, "hours": 11, "utc": true}, "type": "temporal"},
        "y": {"datum": 1.20668, "type": "quantitative"},
        "y2": {"datum": 1.19588}
      }
    },
    {
      "data": {"values": [{}]},
      "mark": {"type": "rule", "color": "#555555", "strokeWidth": 1},
      "encoding": {
        "x": {"datum": {"year": 2019, "month": 10, "date": 5, "hours": 11, "utc": true}, "type": "temporal"},
        "x2": {"datum": {"year": 2019, "month": 10, "date": 29, "hours": 14, "utc": true}},
        "y": {"datum": 1.20668, "type": "quantitative"}
      }
    }
  ]
}
